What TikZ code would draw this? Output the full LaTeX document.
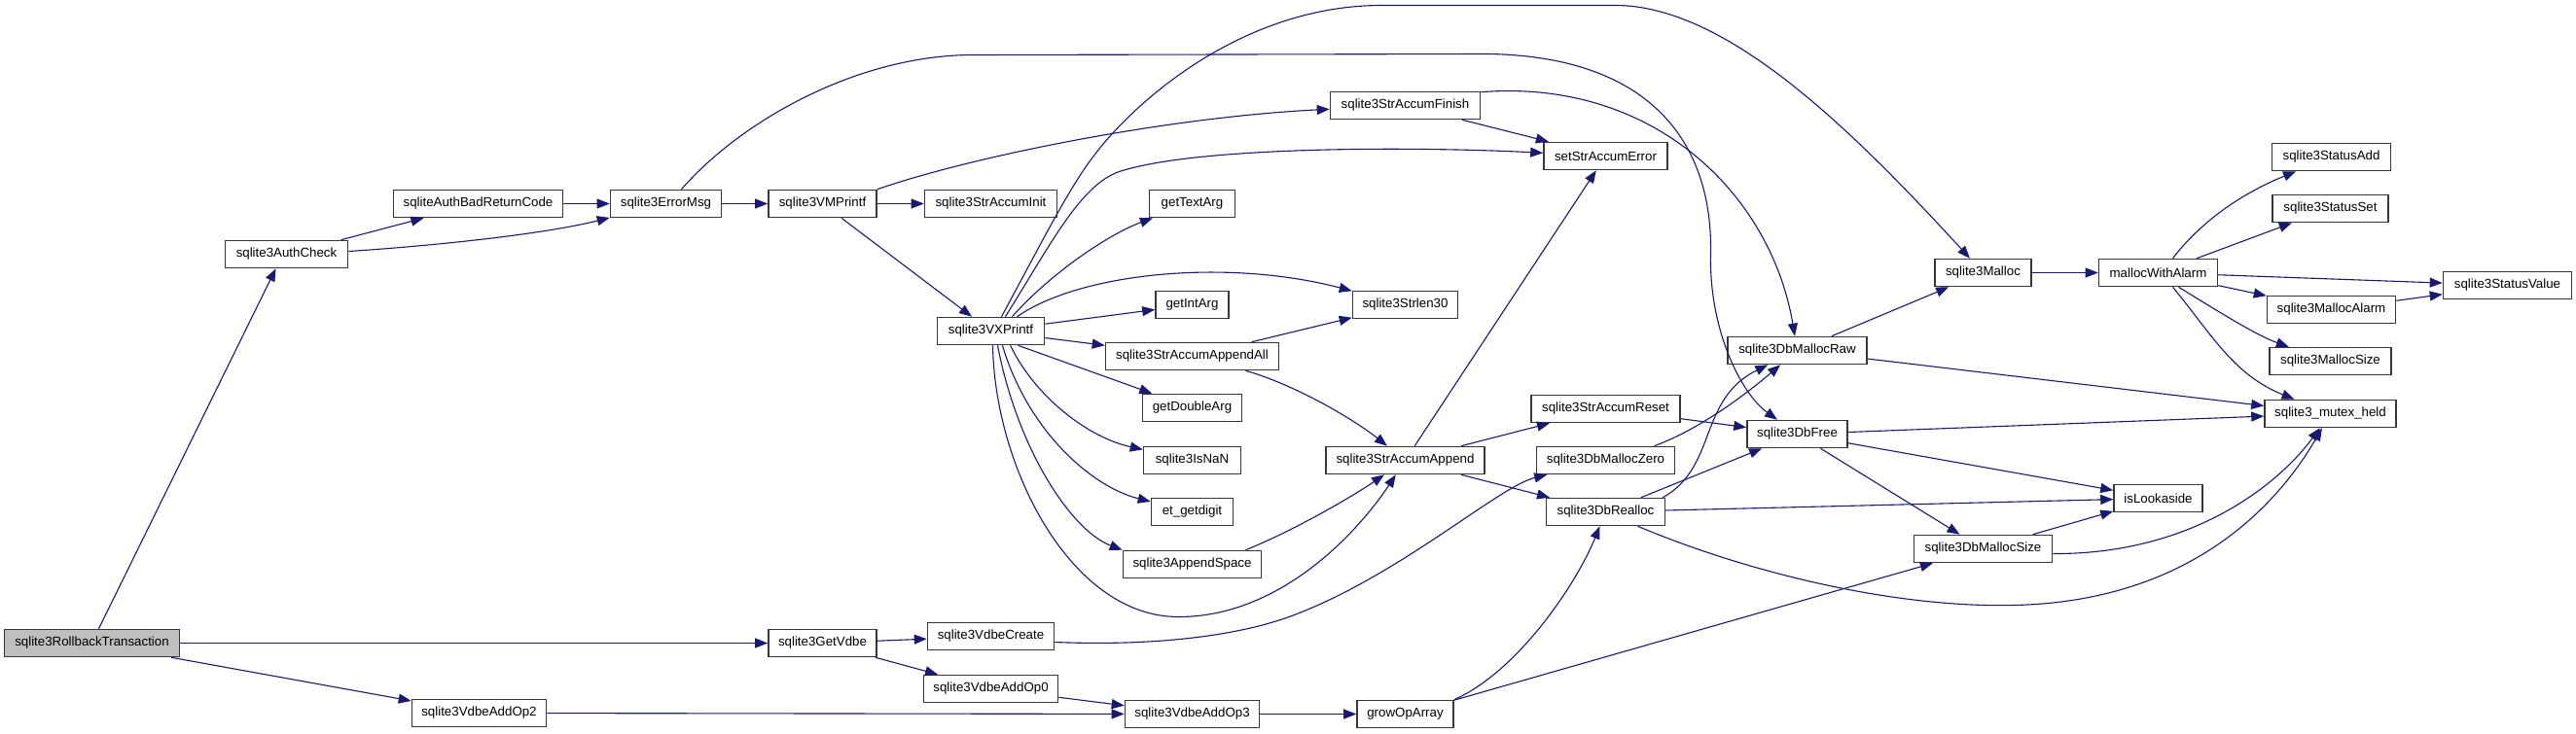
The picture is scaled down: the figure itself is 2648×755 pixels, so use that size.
\documentclass[tikz,border=0pt]{standalone}
\usepackage{fontspec}
\setmainfont{Liberation Sans}
\usetikzlibrary{arrows.meta}
\definecolor{mblue}{HTML}{191970}
\definecolor{rootgray}{HTML}{BFBFBF}
\begin{document}
\begin{tikzpicture}[x=1pt,y=-1pt,
  fn/.style={draw=black!78, fill=white, line width=1.6pt, minimum height=28pt, inner sep=0pt, font=\fontsize{13.3pt}{15pt}\selectfont},
  cg/.style={draw=mblue, line width=1.1pt, -{Triangle[length=13pt,width=10pt]}}]
\useasboundingbox (-0.5,-0.5) rectangle (2647.5,754.5);
\fill[white] (-0.5,-0.5) rectangle (2647.5,754.5);
% nodes
\node[fn,fill=rootgray,minimum width=180pt] (roll) at (94,661) {sqlite3RollbackTransaction};
\node[fn,minimum width=126pt] (authcheck) at (294,261) {sqlite3AuthCheck};
\node[fn,minimum width=174pt] (badret) at (491,209) {sqliteAuthBadReturnCode};
\node[fn,minimum width=114pt] (errmsg) at (684,209) {sqlite3ErrorMsg};
\node[fn,minimum width=111pt] (vmprintf) at (845,209) {sqlite3VMPrintf};
\node[fn,minimum width=136pt] (accinit) at (1018,209) {sqlite3StrAccumInit};
\node[fn,minimum width=88pt] (gettext) at (1225,209) {getTextArg};
\node[fn,minimum width=110pt] (vxprintf) at (1018,340) {sqlite3VXPrintf};
\node[fn,minimum width=75pt] (getint) at (1225,313) {getIntArg};
\node[fn,minimum width=178pt] (appendall) at (1225,366) {sqlite3StrAccumAppendAll};
\node[fn,minimum width=102pt] (getdouble) at (1225,419) {getDoubleArg};
\node[fn,minimum width=100pt] (isnan) at (1225,473) {sqlite3IsNaN};
\node[fn,minimum width=84pt] (etgetdigit) at (1225,526) {et\_getdigit};
\node[fn,minimum width=142pt] (appendspace) at (1225,580) {sqlite3AppendSpace};
\node[fn,minimum width=111pt] (getvdbe) at (845,661) {sqlite3GetVdbe};
\node[fn,minimum width=130pt] (vdbecreate) at (1018,654) {sqlite3VdbeCreate};
\node[fn,minimum width=138pt] (addop0) at (1018,708) {sqlite3VdbeAddOp0};
\node[fn,minimum width=138pt] (addop2) at (492,733) {sqlite3VdbeAddOp2};
\node[fn,minimum width=138pt] (addop3) at (1225,734) {sqlite3VdbeAddOp3};
\node[fn,minimum width=154pt] (accfinish) at (1444,108) {sqlite3StrAccumFinish};
\node[fn,minimum width=127pt] (setaccerr) at (1650,160) {setStrAccumError};
\node[fn,minimum width=108pt] (strlen30) at (1444,313) {sqlite3Strlen30};
\node[fn,minimum width=163pt] (accappend) at (1444,473) {sqlite3StrAccumAppend};
\node[fn,minimum width=153pt] (accreset) at (1650,420) {sqlite3StrAccumReset};
\node[fn,minimum width=143pt] (mallocraw) at (1847,360) {sqlite3DbMallocRaw};
\node[fn,minimum width=142pt] (dbmalloczero) at (1650,473) {sqlite3DbMallocZero};
\node[fn,minimum width=103pt] (dbfree) at (1847,446) {sqlite3DbFree};
\node[fn,minimum width=122pt] (dbrealloc) at (1650,526) {sqlite3DbRealloc};
\node[fn,minimum width=99pt] (growop) at (1444,734) {growOpArray};
\node[fn,minimum width=142pt] (dbmallocsize) at (2038,564) {sqlite3DbMallocSize};
\node[fn,minimum width=91pt] (islookaside) at (2218,512) {isLookaside};
\node[fn,minimum width=135pt] (mutexheld) at (2395,425) {sqlite3\_mutex\_held};
\node[fn,minimum width=99pt] (malloc) at (2038,280) {sqlite3Malloc};
\node[fn,minimum width=122pt] (mwa) at (2218,280) {mallocWithAlarm};
\node[fn,minimum width=122pt] (statusadd) at (2396,161) {sqlite3StatusAdd};
\node[fn,minimum width=119pt] (statusset) at (2395,214) {sqlite3StatusSet};
\node[fn,minimum width=132pt] (statusvalue) at (2577,293) {sqlite3StatusValue};
\node[fn,minimum width=132pt] (mallocalarm) at (2396,318) {sqlite3MallocAlarm};
\node[fn,minimum width=125pt] (mallocsize) at (2395,371) {sqlite3MallocSize};
% edges
\draw[cg] ([xshift=7pt]roll.north) -- ([xshift=-11pt]authcheck.south);
\draw[cg] (roll) -- (getvdbe);
\draw[cg] (roll) -- (addop2);
\draw[cg] (authcheck) -- (badret);
\draw[cg] ([yshift=3pt]authcheck.east) .. controls (450,252) and (560,240) .. (errmsg);
\draw[cg] (badret) -- (errmsg);
\draw[cg] (errmsg) -- (vmprintf);
\draw[cg] ([xshift=16pt]errmsg.north) .. controls (760,125) and (880,56) .. (1000,56) -- (1530,55) .. controls (1700,58) and (1760,150) .. (1758,260) .. controls (1756,340) and (1790,405) .. (dbfree);
\draw[cg] (vmprintf) -- (accinit);
\draw[cg] (vmprintf) -- (vxprintf);
\draw[cg] (vmprintf.north east) .. controls (1000,160) and (1200,120) .. (accfinish);
\draw[cg] ([xshift=11pt]vxprintf.north) .. controls (1075,240) and (1100,190) .. (1126,157) .. controls (1170,100) and (1280,5) .. (1420,5) -- (1660,5) .. controls (1775,5) and (1905,135) .. (malloc);
\draw[cg] ([xshift=15pt]vxprintf.north) .. controls (1080,250) and (1110,190) .. (1150,176) .. controls (1230,150) and (1450,150) .. (setaccerr);
\draw[cg] ([xshift=22pt]vxprintf.north) .. controls (1080,280) and (1140,240) .. (gettext);
\draw[cg] ([xshift=27pt]vxprintf.north) .. controls (1110,280) and (1260,265) .. (strlen30);
\draw[cg] (vxprintf) -- (getint);
\draw[cg] (vxprintf) -- (appendall);
\draw[cg] ([xshift=28pt]vxprintf.south) -- (getdouble);
\draw[cg] ([xshift=20pt]vxprintf.south) .. controls (1065,410) and (1120,450) .. (isnan);
\draw[cg] ([xshift=12pt]vxprintf.south) .. controls (1055,440) and (1120,500) .. (etgetdigit);
\draw[cg] ([xshift=7pt]vxprintf.south) .. controls (1045,460) and (1100,545) .. (appendspace.north west);
\draw[cg] ([xshift=2pt]vxprintf.south) .. controls (1022,480) and (1100,634) .. (1211,634) .. controls (1320,634) and (1400,540) .. (accappend);
\draw[cg] (appendall) -- (strlen30);
\draw[cg] ([xshift=55pt]appendall.south) .. controls (1330,395) and (1390,430) .. (accappend);
\draw[cg] ([xshift=55pt]appendspace.north) .. controls (1330,545) and (1390,510) .. (accappend);
\draw[cg] (accappend) -- (setaccerr);
\draw[cg] (accappend) -- (accreset);
\draw[cg] (accappend) -- (dbrealloc);
\draw[cg] (accfinish) -- (setaccerr);
\draw[cg] ([yshift=-1pt]accfinish.north east) .. controls (1700,80) and (1820,200) .. (mallocraw);
\draw[cg] (accreset) -- (dbfree);
\draw[cg] ([xshift=50pt]dbmalloczero.north) .. controls (1750,440) and (1800,400) .. (mallocraw);
\draw[cg] ([xshift=-3pt]dbrealloc.north east) .. controls (1765,480) and (1745,410) .. (mallocraw);
\draw[cg] (dbrealloc) -- (dbfree);
\draw[cg] (dbrealloc) -- (islookaside);
\draw[cg] ([xshift=33pt]dbrealloc.south) .. controls (1800,590) and (1950,625) .. (2070,622) .. controls (2250,618) and (2340,520) .. (mutexheld);
\draw[cg] (dbfree) -- (mutexheld);
\draw[cg] (dbfree) -- (islookaside);
\draw[cg] (dbfree) -- (dbmallocsize);
\draw[cg] (growop) -- (dbmallocsize);
\draw[cg] (growop.north east) .. controls (1560,690) and (1620,600) .. (dbrealloc);
\draw[cg] (dbmallocsize) -- (islookaside);
\draw[cg] ([yshift=-5pt]dbmallocsize.east) .. controls (2250,570) and (2340,500) .. (mutexheld);
\draw[cg] (mallocraw) -- (malloc);
\draw[cg] (mallocraw) -- (mutexheld);
\draw[cg] (malloc) -- (mwa);
\draw[cg] ([xshift=15pt]mwa.north) .. controls (2260,230) and (2300,200) .. (statusadd);
\draw[cg] (mwa) -- (statusset);
\draw[cg] (mwa) -- (statusvalue);
\draw[cg] (mwa) -- (mallocalarm);
\draw[cg] ([xshift=21pt]mwa.south) .. controls (2280,320) and (2320,345) .. (mallocsize);
\draw[cg] ([xshift=15pt]mwa.south) .. controls (2272,342) and (2295,385) .. (mutexheld);
\draw[cg] (mallocalarm) -- (statusvalue);
\draw[cg] (addop2) -- (addop3);
\draw[cg] (getvdbe) -- (vdbecreate);
\draw[cg] (getvdbe) -- (addop0);
\draw[cg] (addop0) -- (addop3);
\draw[cg] (addop3) -- (growop);
\draw[cg] ([yshift=-6pt]vdbecreate.east) .. controls (1180,664) and (1270,655) .. (1330,632) .. controls (1440,590) and (1540,500) .. (dbmalloczero);
\end{tikzpicture}
\end{document}
